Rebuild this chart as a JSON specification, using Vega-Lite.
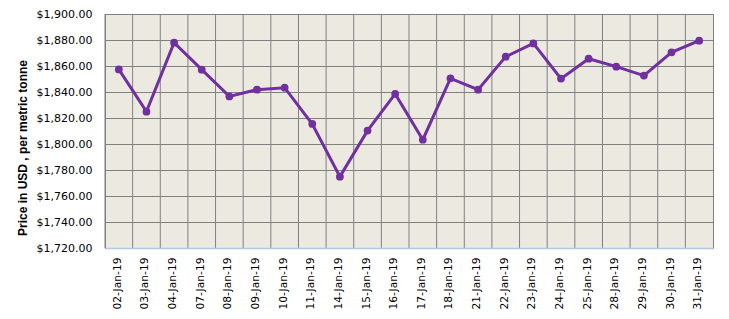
{
  "$schema": "https://vega.github.io/schema/vega-lite/v6.json",
  "width": 608,
  "height": 234,
  "autosize": {"type": "none"},
  "padding": {"left": 105, "top": 14, "right": 16, "bottom": 71},
  "background": "white",
  "config": {"view": {"fill": "#ECE9E0", "stroke": "#808080", "strokeWidth": 1}},
  "data": {"values": [
    {"date": "02-Jan-19", "price": 1857.4},
    {"date": "03-Jan-19", "price": 1824.9},
    {"date": "04-Jan-19", "price": 1877.9},
    {"date": "07-Jan-19", "price": 1857.2},
    {"date": "08-Jan-19", "price": 1836.6},
    {"date": "09-Jan-19", "price": 1841.8},
    {"date": "10-Jan-19", "price": 1843.3},
    {"date": "11-Jan-19", "price": 1815.4},
    {"date": "14-Jan-19", "price": 1774.9},
    {"date": "15-Jan-19", "price": 1810.3},
    {"date": "16-Jan-19", "price": 1838.5},
    {"date": "17-Jan-19", "price": 1803.3},
    {"date": "18-Jan-19", "price": 1850.5},
    {"date": "21-Jan-19", "price": 1841.8},
    {"date": "22-Jan-19", "price": 1867.2},
    {"date": "23-Jan-19", "price": 1877.4},
    {"date": "24-Jan-19", "price": 1850.3},
    {"date": "25-Jan-19", "price": 1865.6},
    {"date": "28-Jan-19", "price": 1859.5},
    {"date": "29-Jan-19", "price": 1852.6},
    {"date": "30-Jan-19", "price": 1870.5},
    {"date": "31-Jan-19", "price": 1879.5}
  ]},
  "encoding": {
    "y": {
      "field": "price", "type": "quantitative",
      "scale": {"domain": [1720, 1900], "nice": false, "zero": false},
      "axis": {
        "values": [1720, 1740, 1760, 1780, 1800, 1820, 1840, 1860, 1880, 1900],
        "tickCount": 10,
        "format": "$,.2f",
        "labelOverlap": false,
        "title": "Price in USD , per metric tonne",
        "titleFont": "Liberation Sans",
        "titleFontWeight": "bold",
        "titleFontSize": 12,
        "titleColor": "#000000",
        "titleAngle": 270,
        "titleAlign": "center",
        "titleBaseline": "middle",
        "titleX": -83,
        "titleY": 133.5,
        "labelFont": "DejaVu Sans",
        "labelFontSize": 11,
        "labelColor": "#000000",
        "labelPadding": 13,
        "labelFlush": false,
        "ticks": false,
        "domain": false,
        "grid": true,
        "gridColor": "#808080",
        "gridWidth": 1,
        "gridOpacity": 1
      }
    }
  },
  "layer": [
    {
      "mark": {"type": "rule", "color": "#808080", "strokeWidth": 1},
      "encoding": {
        "y": null,
        "x": {
          "field": "date", "type": "ordinal", "sort": null, "bandPosition": 0,
          "scale": {"type": "band", "paddingInner": 0, "paddingOuter": 0},
          "axis": {
            "title": null,
            "labelAngle": -90,
            "labelAlign": "right",
            "labelBaseline": "middle",
            "labelFont": "DejaVu Sans",
            "labelFontSize": 10.7,
            "labelColor": "#000000",
            "labelPadding": 9,
            "labelOffset": -1,
            "labelOverlap": false,
            "ticks": false,
            "grid": false,
            "domain": true,
            "domainColor": "#B4C8E6",
            "domainWidth": 1.5,
            "zindex": 1
          }
        }
      }
    },
    {
      "mark": {"type": "line", "color": "#7030A0", "strokeWidth": 3},
      "encoding": {
        "x": {"field": "date", "type": "ordinal", "sort": null, "bandPosition": 0.5}
      }
    },
    {
      "mark": {"type": "point", "filled": true, "color": "#7030A0", "size": 60, "opacity": 1},
      "encoding": {
        "x": {"field": "date", "type": "ordinal", "sort": null, "bandPosition": 0.5}
      }
    }
  ]
}
